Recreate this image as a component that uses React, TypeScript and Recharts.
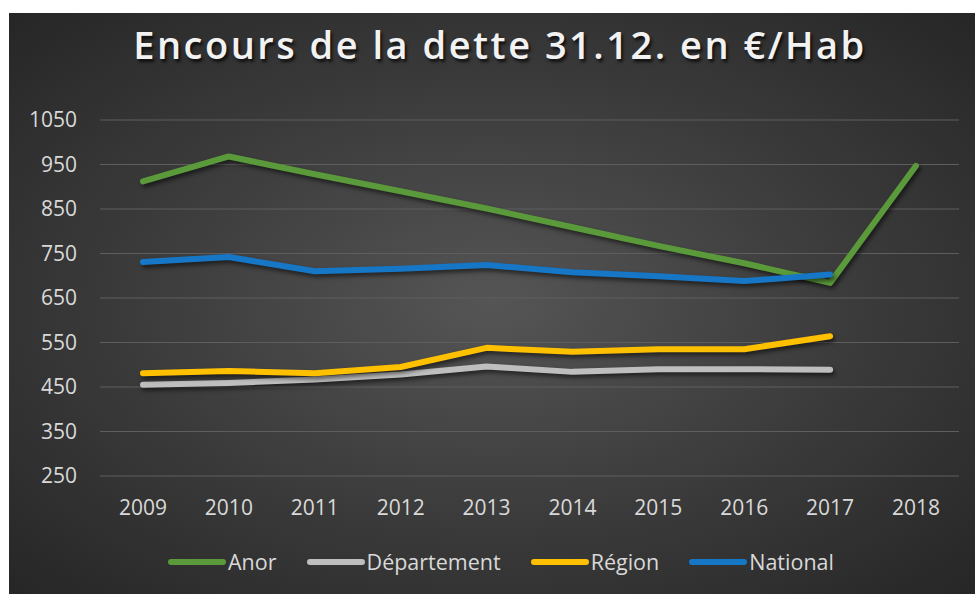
import { LineChart, Line, XAxis, YAxis, CartesianGrid, Legend } from 'recharts';

const years = ['2009', '2010', '2011', '2012', '2013', '2014', '2015', '2016', '2017', '2018'];
const anor = [912, 968, 928, 890, 851, 809, 767, 728, 684, 947];
const departement = [455, 459, 467, 478, 496, 484, 490, 490, 489, null];
const region = [481, 486, 481, 495, 538, 529, 535, 535, 564, null];
const national = [731, 742, 710, 716, 724, 708, 699, 688, 703, null];
const yTicks = [250, 350, 450, 550, 650, 750, 850, 950, 1050];

const series = [
    { key: 'anor', name: 'Anor', color: '#5B9A3B' },
    { key: 'departement', name: 'Département', color: '#BEBEBE' },
    { key: 'region', name: 'Région', color: '#FFC000' },
    { key: 'national', name: 'National', color: '#1677C6' },
];

const data = years.map((year, i) => ({
    year,
    anor: anor[i],
    departement: departement[i],
    region: region[i],
    national: national[i],
}));

const font = '"Open Sans", sans-serif';
const labelColor = '#d9d9d9';

function XTick({ x, y, payload }: any) {
    return (
        <text x={x} y={y} dy={31} textAnchor="middle" fill={labelColor} fontSize={21} fontFamily={font}>
            {payload.value}
        </text>
    );
}

function YTick({ x, y, payload }: any) {
    return (
        <text x={x} y={y} dx={-15} dy={7} textAnchor="end" fill={labelColor} fontSize={21} fontFamily={font}>
            {payload.value}
        </text>
    );
}

function LegendContent() {
    return (
        <div style={{ display: 'flex', justifyContent: 'center', alignItems: 'center', gap: 30, fontFamily: font, fontSize: 21.5, color: labelColor, paddingLeft: 34 }}>
            {series.map((s) => (
                <div key={s.key} style={{ display: 'flex', alignItems: 'center' }}>
                    <span style={{ display: 'inline-block', width: 58, height: 6, borderRadius: 3, background: s.color, marginRight: 2 }} />
                    <span>{s.name}</span>
                </div>
            ))}
        </div>
    );
}

export default function App() {
    return (
        <div style={{ position: 'absolute', left: 0, top: 0, width: 975, height: 594, background: '#fff', overflow: 'hidden' }}>
            <style>{`.shadow-line path { filter: drop-shadow(2px 3px 2px rgba(0,0,0,0.55)); }`}</style>
            <div
                style={{
                    position: 'absolute',
                    left: 9,
                    top: 13,
                    width: 966,
                    height: 581,
                    background: 'radial-gradient(ellipse at 50% 50%, #555555 0%, #3a3a3a 55%, #262626 100%)',
                }}
            >
                <div
                    style={{
                        position: 'absolute',
                        left: 16,
                        top: 5,
                        width: 950,
                        textAlign: 'center',
                        fontFamily: font,
                        fontWeight: 600,
                        fontSize: 38,
                        letterSpacing: 2.5,
                        color: '#f2f2f2',
                        textShadow: '2px 3px 3px rgba(0,0,0,0.7)',
                    }}
                >
                    Encours de la dette 31.12. en €/Hab
                </div>
                <LineChart width={966} height={581} data={data} margin={{ top: 107, right: 16, left: 0, bottom: 49 }}>
                    <CartesianGrid vertical={false} stroke="#5e5e5e" strokeWidth={1} />
                    <XAxis
                        dataKey="year"
                        axisLine={false}
                        tickLine={false}
                        padding={{ left: 43, right: 43 }}
                        height={40}
                        interval={0}
                        tick={<XTick />}
                    />
                    <YAxis
                        domain={[250, 1050]}
                        ticks={yTicks}
                        interval={0}
                        axisLine={false}
                        tickLine={false}
                        width={91}
                        tick={<YTick />}
                    />
                    {series.map((s) => (
                        <Line
                            key={s.key}
                            className="shadow-line"
                            type="linear"
                            dataKey={s.key}
                            name={s.name}
                            stroke={s.color}
                            strokeWidth={6}
                            strokeLinecap="round"
                            strokeLinejoin="round"
                            dot={false}
                            activeDot={false}
                            isAnimationActive={false}
                        />
                    ))}
                    <Legend verticalAlign="bottom" content={<LegendContent />} wrapperStyle={{ bottom: 18 }} />
                </LineChart>
            </div>
        </div>
    );
}
